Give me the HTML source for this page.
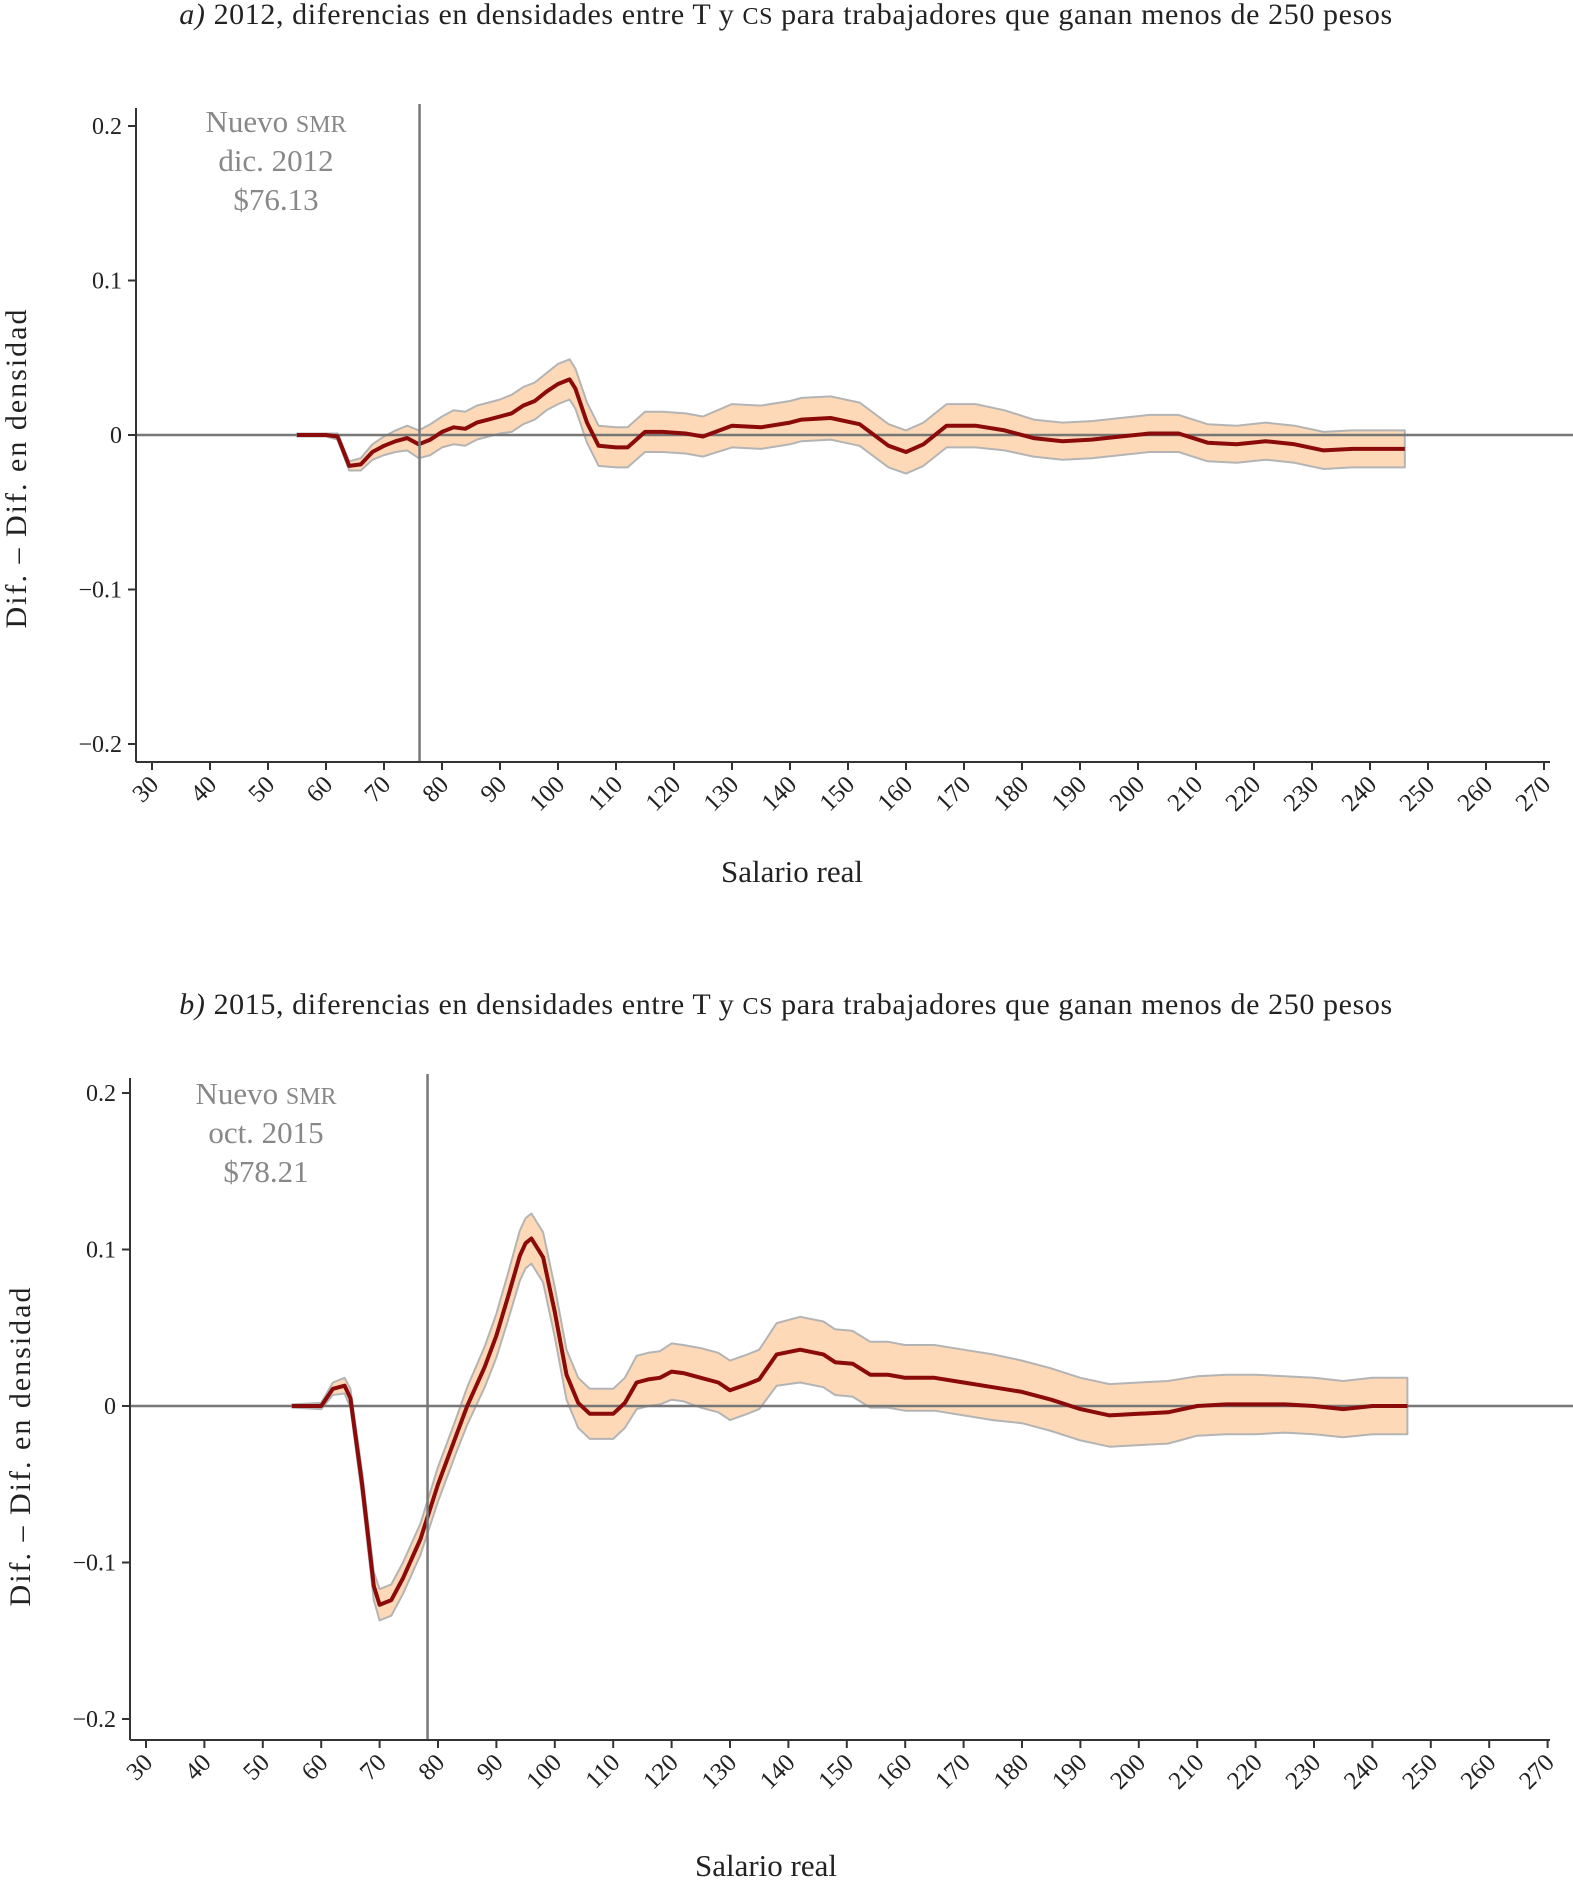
<!DOCTYPE html>
<html><head><meta charset="utf-8">
<style>
html,body{margin:0;padding:0;background:#fff;}
svg{display:block;font-family:"Liberation Serif",serif;}
</style></head>
<body>
<svg id="s" width="1573" height="1885" viewBox="0 0 1573 1885" xmlns="http://www.w3.org/2000/svg">
<text x="786" y="24" text-anchor="middle" font-size="30" letter-spacing="0.6" fill="#222"><tspan font-style="italic">a)</tspan> 2012, diferencias en densidades entre T y <tspan font-size="24">CS</tspan> para trabajadores que ganan menos de 250 pesos</text>
<text x="786" y="1014" text-anchor="middle" font-size="30" letter-spacing="0.6" fill="#222"><tspan font-style="italic">b)</tspan> 2015, diferencias en densidades entre T y <tspan font-size="24">CS</tspan> para trabajadores que ganan menos de 250 pesos</text>
<g id="ga"></g>
<g id="gb"></g>
</svg>
<script>
const xTicks=[30,40,50,60,70,80,90,100,110,120,130,140,150,160,170,180,190,200,210,220,230,240,250,260,270];
const yTicks=[0.2,0.1,0,-0.1,-0.2];
const yTickLabels=["0.2","0.1","0","\u22120.1","\u22120.2"];

const xA=[55,60,62,64,66,68,70,72,74,76,78,80,82,84,86,88,90,92,94,96,98,100,102,103,105,107,110,112,115,118,122,125,130,135,140,142,147,152,157,160,163,167,172,177,182,187,192,197,202,207,212,217,222,227,232,237,241,246];
const meanA=[0,0,-0.001,-0.02,-0.019,-0.011,-0.007,-0.004,-0.002,-0.006,-0.003,0.002,0.005,0.004,0.008,0.01,0.012,0.014,0.019,0.022,0.028,0.033,0.036,0.03,0.008,-0.007,-0.008,-0.008,0.002,0.002,0.001,-0.001,0.006,0.005,0.008,0.01,0.011,0.007,-0.007,-0.011,-0.006,0.006,0.006,0.003,-0.002,-0.004,-0.003,-0.001,0.001,0.001,-0.005,-0.006,-0.004,-0.006,-0.01,-0.009,-0.009,-0.009];
const halfA=[0.001,0.001,0.002,0.003,0.004,0.005,0.006,0.007,0.008,0.009,0.01,0.01,0.011,0.011,0.011,0.011,0.011,0.012,0.012,0.012,0.012,0.013,0.013,0.013,0.013,0.013,0.013,0.013,0.013,0.013,0.013,0.013,0.014,0.014,0.014,0.014,0.014,0.014,0.014,0.014,0.014,0.014,0.014,0.013,0.012,0.012,0.012,0.012,0.012,0.012,0.012,0.012,0.012,0.012,0.012,0.012,0.012,0.012];

const xB=[55,60,62,64,65,67,69,70,72,74,77,80,83,85,88,90,92,94,95,96,98,100,102,104,106,108,110,112,114,116,118,120,122,125,128,130,133,135,138,142,146,148,151,154,157,160,165,170,175,180,185,190,195,200,205,210,215,220,225,230,235,240,246];
const meanB=[0,0,0.011,0.013,0.005,-0.05,-0.115,-0.127,-0.124,-0.11,-0.085,-0.05,-0.02,0,0.025,0.045,0.07,0.096,0.104,0.107,0.095,0.06,0.02,0.002,-0.005,-0.005,-0.005,0.002,0.015,0.017,0.018,0.022,0.021,0.018,0.015,0.01,0.014,0.017,0.033,0.036,0.033,0.028,0.027,0.02,0.02,0.018,0.018,0.015,0.012,0.009,0.004,-0.002,-0.006,-0.005,-0.004,0,0.001,0.001,0.001,0,-0.002,0,0];
const halfB=[0.001,0.002,0.004,0.005,0.006,0.008,0.009,0.01,0.01,0.01,0.01,0.011,0.011,0.012,0.013,0.014,0.015,0.016,0.016,0.016,0.016,0.016,0.016,0.016,0.016,0.016,0.016,0.016,0.017,0.017,0.017,0.018,0.018,0.019,0.019,0.019,0.019,0.019,0.02,0.021,0.021,0.021,0.021,0.021,0.021,0.021,0.021,0.021,0.021,0.02,0.02,0.02,0.02,0.02,0.02,0.019,0.019,0.019,0.018,0.018,0.018,0.018,0.018];

const NS="http://www.w3.org/2000/svg";
function mk(p,tag,at){const e=document.createElementNS(NS,tag);for(const k in at)e.setAttribute(k,at[k]);p.appendChild(e);return e;}

function chart(g,cfg,xs,mean,half,vline,annot){
  const X=v=>cfg.x30+(v-30)*cfg.per10/10;
  const Y=v=>cfg.y0-v*(cfg.y0-cfg.y2)/0.2;
  let d="";
  xs.forEach((x,i)=>{d+=(i?"L":"M")+X(x).toFixed(1)+","+Y(mean[i]+half[i]).toFixed(1);});
  for(let i=xs.length-1;i>=0;i--)d+="L"+X(xs[i]).toFixed(1)+","+Y(mean[i]-half[i]).toFixed(1);
  const band=mk(g,"path",{d:d+"Z",fill:"#fdd9b8",stroke:"#b4b4b4","stroke-width":"2","stroke-linejoin":"round"});
  
  
  const zl=mk(g,"line",{x1:cfg.ax,x2:1573,y1:Y(0),y2:Y(0),stroke:"#777","stroke-width":"2.5"});
  
  
  let m="";
  xs.forEach((x,i)=>{m+=(i?"L":"M")+X(x).toFixed(1)+","+Y(mean[i]).toFixed(1);});
  const ln=mk(g,"path",{d:m,fill:"none",stroke:"#8b0a0a","stroke-width":"4","stroke-linejoin":"round"});
  
  
  const vl=mk(g,"line",{x1:X(vline),x2:X(vline),y1:cfg.vtop,y2:cfg.axY,stroke:"#777","stroke-width":"2.5"});
  
  
  const ya=mk(g,"line",{x1:cfg.ax,x2:cfg.ax,y1:cfg.vtop+4,y2:cfg.axY,stroke:"#333","stroke-width":"2"});
  
  
  const xa=mk(g,"line",{x1:cfg.ax,x2:1550,y1:cfg.axY,y2:cfg.axY,stroke:"#333","stroke-width":"2"});
  
  
  yTicks.forEach((v,i)=>{
    mk(g,"line",{x1:cfg.ax-8,x2:cfg.ax,y1:Y(v),y2:Y(v),stroke:"#333","stroke-width":"2"});
    const t=mk(g,"text",{x:cfg.ax-14,y:Y(v)+8,"text-anchor":"end","font-size":"24",fill:"#222"});
    t.textContent=yTickLabels[i];
    
    
  });
  xTicks.forEach(v=>{
    mk(g,"line",{x1:X(v),x2:X(v),y1:cfg.axY,y2:cfg.axY+8,stroke:"#333","stroke-width":"2"});
    const t=mk(g,"text",{x:X(v)+8,y:cfg.axY+24,"text-anchor":"end","font-size":"25",fill:"#222",transform:`rotate(-45 ${X(v)+8} ${cfg.axY+24})`});
    t.textContent=String(v);
    
    
  });
  const xl=mk(g,"text",{x:cfg.xlabX,y:cfg.xlabY,"text-anchor":"middle","font-size":"31",fill:"#222"});
  xl.textContent="Salario real";
  
  
  const yl=mk(g,"text",{x:0,y:0,"text-anchor":"middle","font-size":"30","letter-spacing":"2",fill:"#222",transform:`translate(${cfg.ylabX} ${cfg.ylabY}) rotate(-90)`});
  yl.textContent="Dif. \u2013 Dif. en densidad";
  
  
  annot.forEach((s,i)=>{
    const t=mk(g,"text",{x:cfg.anX,y:cfg.anY+i*39,"text-anchor":"middle","font-size":"31",fill:"#888"});
    if(i===0){t.textContent="Nuevo ";const ts=mk(t,"tspan",{"font-size":"24"});ts.textContent="SMR";}
    else t.textContent=s;
    
    
  });
}
chart(document.getElementById("ga"),{x30:152,per10:58,y0:435,y2:126,axY:762,ax:136,vtop:104,xlabX:792,xlabY:882,ylabX:26,ylabY:468,anX:276,anY:132},xA,meanA,halfA,76.13,["Nuevo SMR","dic. 2012","$76.13"]);
chart(document.getElementById("gb"),{x30:146,per10:58.4,y0:1406,y2:1093,axY:1740,ax:130,vtop:1074,xlabX:766,xlabY:1876,ylabX:30,ylabY:1446,anX:266,anY:1104},xB,meanB,halfB,78.21,["Nuevo SMR","oct. 2015","$78.21"]);
</script>
</body></html>
